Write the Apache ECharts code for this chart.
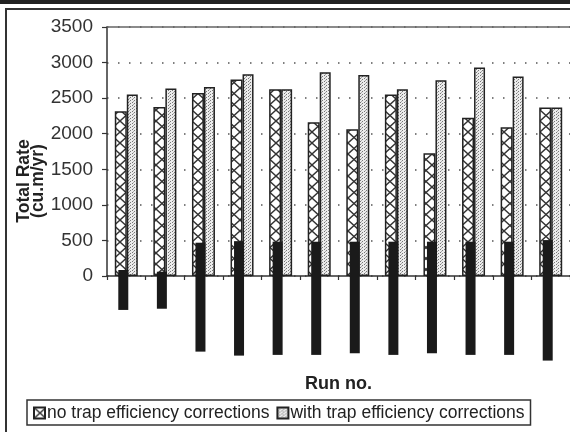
<!DOCTYPE html>
<html>
<head>
<meta charset="utf-8">
<script src="https://cdn.jsdelivr.net/npm/echarts@6/dist/echarts.min.js"></script>
<style>
html,body{margin:0;padding:0;background:#fff;}
#chart{width:570px;height:432px;}
</style>
</head>
<body>
<div id="chart"></div>
<script>
// ---- data ----
var runs = ['1','2','3','4','5','6','7','8','9','10','11','12'];
var noTrapCorr = [2317, 2377, 2574, 2762, 2625, 2162, 2064, 2551, 1727, 2223, 2092, 2368];
var withTrapCorr = [2551, 2635, 2658, 2836, 2625, 2864, 2827, 2625, 2752, 2930, 2804, 2368];
// black redaction blocks (upper and lower extents)
var blockTop = [84, 60, 468, 490, 482, 482, 482, 482, 482, 482, 482, 505];
var blockBottom = [-477, -460, -1063, -1119, -1109, -1109, -1086, -1109, -1086, -1109, -1109, -1189];
var yTicks = [0, 500, 1000, 1500, 2000, 2500, 3000, 3500];
var seriesNames = ['no trap efficiency corrections', 'with trap efficiency corrections'];

// ---- patterns ----
function crossPattern() {
  var c = document.createElement('canvas');
  c.width = 12; c.height = 11;
  var g = c.getContext('2d');
  g.fillStyle = '#fff'; g.fillRect(0, 0, 12, 11);
  g.strokeStyle = '#333'; g.lineWidth = 1.4;
  g.beginPath();
  g.moveTo(0, 0); g.lineTo(12, 11);
  g.moveTo(12, 0); g.lineTo(0, 11);
  g.stroke();
  return c;
}
function dotPattern() {
  var c = document.createElement('canvas');
  c.width = 4; c.height = 3;
  var g = c.getContext('2d');
  g.fillStyle = '#ececec'; g.fillRect(0, 0, 4, 3);
  g.fillStyle = '#777';
  g.fillRect(0, 0, 1, 1);
  g.fillRect(2, 1, 1, 1);
  g.fillStyle = '#aaa';
  g.fillRect(1, 2, 1, 1);
  return c;
}
var crossFill = { image: crossPattern(), repeat: 'repeat' };
var dotFill = { image: dotPattern(), repeat: 'repeat' };

var FONT = 'Liberation Sans, Arial, sans-serif';
var chart = echarts.init(document.getElementById('chart'));

var option = {
  animation: false,
  backgroundColor: '#fff',
  grid: [
    { left: 107, right: 0, top: 27, height: 249 },
    { left: 104, right: 3, top: 27, height: 249 * 5000 / 3500 }
  ],
  xAxis: [
    {
      type: 'category', data: runs, gridIndex: 0,
      axisLine: { lineStyle: { color: '#333', width: 1.5 } },
      axisTick: { show: true, length: 4, lineStyle: { color: '#333', width: 1.2 } },
      axisLabel: { show: false },
      name: 'Run no.', nameLocation: 'middle', nameGap: 99,
      nameTextStyle: { fontFamily: FONT, fontSize: 18, fontWeight: 'bold', color: '#222' }
    },
    {
      type: 'category', data: runs, gridIndex: 0, position: 'top',
      axisLine: { lineStyle: { color: '#666', width: 1.5 } },
      axisTick: { show: false }, axisLabel: { show: false }
    },
    {
      type: 'category', data: runs, gridIndex: 1, show: false
    }
  ],
  yAxis: [
    {
      type: 'value', gridIndex: 0, min: yTicks[0], max: yTicks[yTicks.length - 1], interval: 500,
      axisLine: { show: true, lineStyle: { color: '#333', width: 1.5 } },
      axisTick: { show: true, length: 5, lineStyle: { color: '#333', width: 1.2 } },
      axisLabel: { fontFamily: FONT, fontSize: 19, color: '#333', margin: 14,
        formatter: function (v) { return String(v); } },
      splitLine: { show: true, lineStyle: { color: '#555', width: 1.5, type: [1.5, 9.5] } }
    },
    {
      type: 'value', gridIndex: 1, min: -1500, max: 3500, show: false, splitLine: { show: false }
    }
  ],
  legend: {
    left: 27, top: 400,
    orient: 'horizontal',
    data: seriesNames,
    icon: 'rect',
    itemWidth: 11, itemHeight: 11, itemGap: 7,
    borderColor: '#333', borderWidth: 1.5, padding: [4, 6, 3, 6],
    textStyle: { fontFamily: FONT, fontSize: 17.5, color: '#222', padding: [0, 0, 0, -3] }
  },
  series: [
    {
      name: seriesNames[0], type: 'bar', xAxisIndex: 0, yAxisIndex: 0,
      data: noTrapCorr, barWidth: 12, barGap: '0%', z: 2,
      itemStyle: { color: crossFill, borderColor: '#222', borderWidth: 1.5 }
    },
    {
      name: seriesNames[1], type: 'bar', xAxisIndex: 0, yAxisIndex: 0,
      data: withTrapCorr, barWidth: 11, barGap: '0%', z: 2,
      itemStyle: { color: dotFill, borderColor: '#222', borderWidth: 1.5 }
    },
    {
      name: 'blockTop', type: 'bar', xAxisIndex: 2, yAxisIndex: 1, stack: 'blk',
      data: blockTop, barWidth: 10, z: 5, silent: true,
      itemStyle: { color: '#1a1a1a' }
    },
    {
      name: 'blockBottom', type: 'bar', xAxisIndex: 2, yAxisIndex: 1, stack: 'blk',
      data: blockBottom, barWidth: 10, z: 5, silent: true,
      itemStyle: { color: '#1a1a1a' }
    }
  ],
  graphic: [
    { type: 'rect', shape: { x: 0, y: 0, width: 570, height: 4 }, style: { fill: '#222' }, z: 10 },
    { type: 'rect', shape: { x: 6, y: 9, width: 600, height: 500 }, style: { fill: null, stroke: '#333', lineWidth: 2 }, z: 10 },
    {
      type: 'text', x: 31, y: 181, rotation: Math.PI / 2, z: 10,
      style: {
        text: 'Total Rate\n(cu.m/yr)', fontFamily: FONT, fontSize: 17.5, fontWeight: 'bold',
        fill: '#222', textAlign: 'center', textVerticalAlign: 'middle', lineHeight: 14
      }
    }
  ]
};
chart.setOption(option);
</script>
</body>
</html>
